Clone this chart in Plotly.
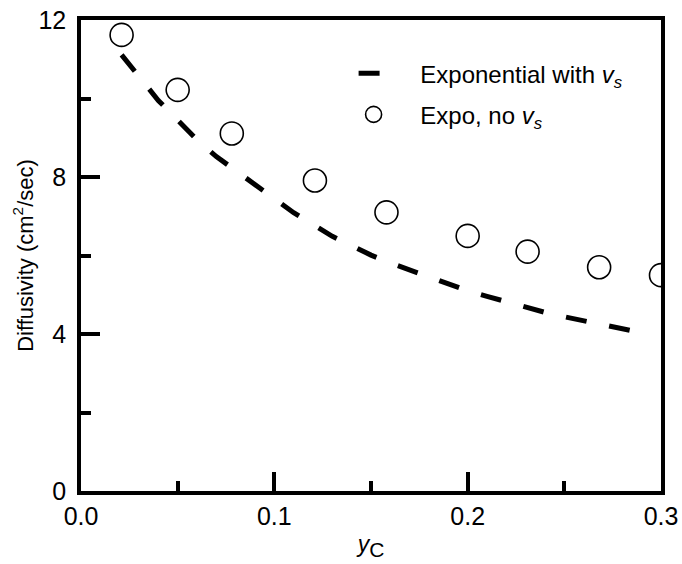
import plotly.graph_objects as go

# Dashed curve: "Exponential with v_s"
line_x = [0.021, 0.03, 0.04, 0.05, 0.06, 0.07, 0.08, 0.09, 0.10, 0.11, 0.12, 0.13, 0.14,
          0.15, 0.16, 0.17, 0.18, 0.19, 0.20, 0.21, 0.22, 0.23, 0.24, 0.25, 0.26, 0.27,
          0.28, 0.29]
line_y = [11.11, 10.55, 9.95, 9.45, 8.95, 8.52, 8.15, 7.80, 7.45, 7.09, 6.78, 6.49, 6.25,
          6.01, 5.81, 5.63, 5.45, 5.27, 5.10, 4.96, 4.82, 4.68, 4.55, 4.44, 4.34, 4.24,
          4.14, 4.03]

# Open circles: "Expo, no v_s"
pts_x = [0.021, 0.050, 0.078, 0.121, 0.158, 0.200, 0.231, 0.268, 0.300]
pts_y = [11.62, 10.22, 9.11, 7.91, 7.10, 6.50, 6.10, 5.70, 5.50]

x_ticks = [0.0, 0.1, 0.2, 0.3]
x_ticklabels = ["0.0", "0.1", "0.2", "0.3"]
y_ticks = [0, 4, 8, 12]
y_ticklabels = ["0", "4", "8", "12"]

FONT = "Liberation Sans, Arial, sans-serif"
NB = "\u00a0"

fig = go.Figure()
fig.add_trace(go.Scatter(
    x=line_x, y=line_y, mode="lines",
    name=NB * 4 + "Exponential with <i>v</i><sub><i>s</i></sub>",
    line=dict(color="black", width=5, dash="21px,23px"),
    legendgroup="a",
))
fig.add_trace(go.Scatter(
    x=pts_x, y=pts_y, mode="markers",
    name=NB * 4 + "Expo, no <i>v</i><sub><i>s</i></sub>",
    marker=dict(symbol="circle-open", size=23, color="black", line=dict(width=1.6, color="black")),
    legendgroup="b",
))

axis_common = dict(
    showline=True, linecolor="black", linewidth=3.5, mirror=True,
    ticks="inside", ticklen=19, tickwidth=3.5, tickcolor="black",
    showgrid=False, zeroline=False, automargin=False,
    tickfont=dict(family=FONT, size=25, color="black"),
)

fig.update_xaxes(
    range=[0, 0.3], tickmode="array", tickvals=x_ticks, ticktext=x_ticklabels,
    minor=dict(ticks="inside", ticklen=10, tickwidth=3.5, tickcolor="black", dtick=0.05, tick0=0),
    title=dict(text="<i>y</i><sub><span style=\"font-size:21px\">C</span></sub>",
               font=dict(family=FONT, size=23, color="black"), standoff=8),
    **axis_common,
)
fig.update_yaxes(
    range=[0, 12], tickmode="array", tickvals=y_ticks, ticktext=y_ticklabels,
    minor=dict(ticks="inside", ticklen=10, tickwidth=3.5, tickcolor="black", dtick=2, tick0=0),
    ticklabelstandoff=6,
    title=dict(text="Diffusivity (cm<sup>2</sup>/sec)", font=dict(family=FONT, size=22, color="black"), standoff=0),
    **axis_common,
)

fig.update_layout(
    width=682, height=564,
    margin=dict(l=81, r=21, t=20, b=73, autoexpand=False),
    paper_bgcolor="white", plot_bgcolor="white",
    showlegend=True,
    legend=dict(
        x=0.47, y=0.934, xanchor="left", yanchor="top",
        bgcolor="rgba(0,0,0,0)", borderwidth=0,
        font=dict(family=FONT, size=24, color="black"),
        tracegroupgap=7,
    ),
)

fig.write_html("out.html")
